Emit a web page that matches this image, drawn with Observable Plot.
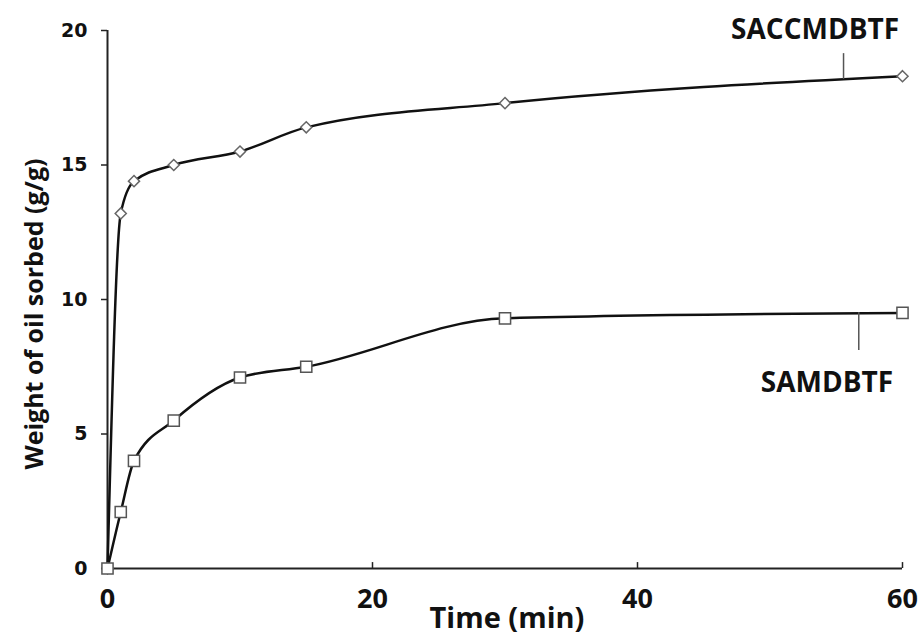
<!DOCTYPE html>
<html>
<head>
<meta charset="utf-8">
<script src="https://cdn.jsdelivr.net/npm/d3@7"></script>
<script src="https://cdn.jsdelivr.net/npm/@observablehq/plot@0.6"></script>
<style>
  html, body { margin: 0; padding: 0; background: #fff; }
  #chart { width: 919px; height: 641px; }
</style>
</head>
<body>
<div id="chart"></div>
<script>
// ---- data ----
const time = [0, 1, 2, 5, 10, 15, 30, 60];
const saccmdbtf = [0, 13.2, 14.4, 15.0, 15.5, 16.4, 17.3, 18.3];
const samdbtf = [0, 2.1, 4.0, 5.5, 7.1, 7.5, 9.3, 9.5];
const seriesNames = ["SACCMDBTF", "SAMDBTF"];
const xTicks = [0, 20, 40, 60];
const yTicks = [0, 5, 10, 15, 20];
const xLabel = "Time (min)";
const yLabel = "Weight of oil sorbed (g/g)";
// annotation anchors (data units)
const labelX = [53.4, 54.3];
const labelY = [20.02, 6.88];
const leaderX = [55.55, 56.7];
const leaderY1 = [18.18, 9.52];
const leaderY2 = [19.14, 8.1];

const rowsA = time.map((t, i) => ({x: t, y: saccmdbtf[i]}));
const rowsB = time.map((t, i) => ({x: t, y: samdbtf[i]}));
const labels = seriesNames.map((s, i) => ({name: s, x: labelX[i], y: labelY[i], lx: leaderX[i], y1: leaderY1[i], y2: leaderY2[i]}));

const chart = Plot.plot({
  width: 919,
  height: 641,
  marginLeft: 107,
  marginRight: 17,
  marginTop: 30,
  marginBottom: 73,
  style: {background: "#fff", color: "#111"},
  x: {domain: [0, 60]},
  y: {domain: [0, 20]},
  marks: [
    Plot.axisY({ticks: yTicks, tickSize: 6, tickPadding: 14, fontSize: 19, fontWeight: "bold", fontFamily: "DejaVu Sans", label: null, stroke: "#222", strokeWidth: 1.5}),
    Plot.axisX({ticks: xTicks, tickSize: 0, tickPadding: 20, fontSize: 27, fontWeight: "bold", fontFamily: "Open Sans", label: null}),
    Plot.ruleX(xTicks.slice(1), {x: d => d, y1: 0, y2: 0.22, stroke: "#222", strokeWidth: 1.5}),
    Plot.ruleY([0], {stroke: "#222", strokeWidth: 2}),
    Plot.ruleX([0], {stroke: "#222", strokeWidth: 2}),
    Plot.line(rowsA, {x: "x", y: "y", curve: "monotone-x", stroke: "#111", strokeWidth: 2.5}),
    Plot.line(rowsB, {x: "x", y: "y", curve: "monotone-x", stroke: "#111", strokeWidth: 2.5}),
    Plot.dot(rowsA, {x: "x", y: "y", symbol: "diamond2", r: 5, fill: "#fff", stroke: "#666", strokeWidth: 1.5}),
    Plot.dot(rowsB, {x: "x", y: "y", symbol: "square", r: 6.3, fill: "#fff", stroke: "#555", strokeWidth: 1.5}),
    Plot.ruleX(labels, {x: "lx", y1: "y1", y2: "y2", stroke: "#555", strokeWidth: 1.5}),
    Plot.text(labels, {x: "x", y: "y", text: "name", fontSize: 28, fontWeight: "bold", fontFamily: "Open Sans", fill: "#111", textAnchor: "middle", lineAnchor: "middle"})
  ]
});

const svg = d3.select(chart);
// axis titles
svg.append("text")
  .attr("x", 507).attr("y", 620)
  .attr("text-anchor", "middle").attr("dominant-baseline", "middle")
  .style("font", "bold 29px 'Open Sans'").style("fill", "#111")
  .text(xLabel);
svg.append("text")
  .attr("transform", "translate(36,314) rotate(-90)")
  .attr("text-anchor", "middle").attr("dominant-baseline", "middle")
  .style("font", "bold 25px 'Open Sans'").style("fill", "#111")
  .text(yLabel);

document.getElementById("chart").appendChild(chart);
</script>
</body>
</html>
